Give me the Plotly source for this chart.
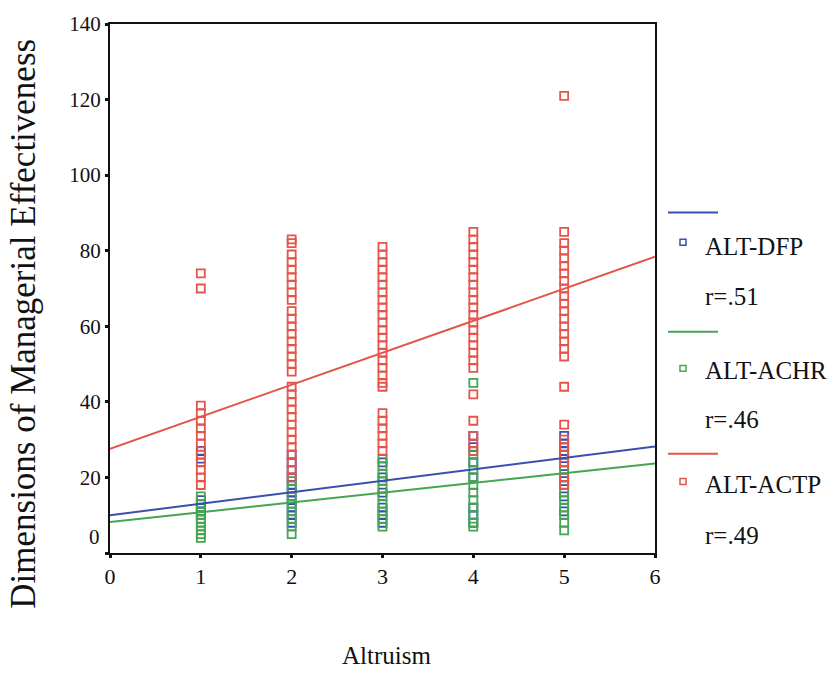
import plotly.graph_objects as go

# ---------------- data ----------------
series_names = ["ALT-DFP", "ALT-ACHR", "ALT-ACTP"]
r_labels = ["r=.51", "r=.46", "r=.49"]
colors = ["#3a4fae", "#45a553", "#e5544a"]

dfp_x = [1]*7 + [2]*10 + [3]*6 + [4]*7 + [5]*7
dfp_y = [27, 25, 14, 13, 12, 11, 10,
         26, 24, 22, 20, 18, 16, 14, 12, 10, 8,
         24, 20, 16, 12, 10, 8,
         31, 28, 24, 20, 12, 10, 8,
         31, 29, 27, 23, 19, 15, 11]

achr_x = [1]*10 + [2]*8 + [3]*10 + [4]*12 + [5]*12
achr_y = [15, 13, 11, 10, 9, 8, 7, 6, 5, 4,
          19, 17, 15, 13, 11, 9, 7, 5,
          25, 23, 21, 19, 17, 15, 13, 11, 9, 7,
          45, 26, 24, 22, 20, 18, 16, 14, 12, 10, 8, 7,
          28, 26, 24, 22, 20, 18, 16, 14, 12, 10, 8, 6]

actp_x = [1]*13 + [2]*31 + [3]*26 + [4]*24 + [5]*26
actp_y = [74, 70, 39, 37, 35, 33, 31, 29, 26, 24, 22, 20, 18,
          83, 82, 79, 77, 75, 73, 71, 69, 67, 64, 62, 60, 58, 56, 54, 52, 50, 48,
          44, 42, 40, 38, 36, 34, 32, 30, 28, 26, 24, 22, 20,
          81, 79, 77, 75, 73, 71, 69, 67, 65, 63, 61, 59, 57, 55, 53, 51, 49, 47, 45, 44,
          37, 35, 33, 31, 29, 27,
          85, 83, 81, 79, 77, 75, 73, 71, 69, 67, 65, 63, 61, 59, 57, 55, 53, 51, 49,
          42, 35, 31, 29, 27,
          121, 85, 82, 80, 78, 76, 74, 72, 70, 68, 66, 64, 62, 60, 58, 56, 54, 52,
          44, 34, 30, 28, 26, 24, 20, 18]

# fit lines: values read at x = 0 and x = 6
fit_x = [0, 6]
dfp_fit = [10.0, 28.2]
achr_fit = [8.2, 23.7]
actp_fit = [27.6, 78.4]

x_ticks = [0, 1, 2, 3, 4, 5, 6]
y_ticks = [0, 20, 40, 60, 80, 100, 120, 140]

FONT = "'Liberation Serif', 'Times New Roman', 'DejaVu Serif', serif"

fig = go.Figure()
for xs, ys, c in [(dfp_x, dfp_y, colors[0]), (achr_x, achr_y, colors[1]), (actp_x, actp_y, colors[2])]:
    fig.add_trace(go.Scatter(x=xs, y=ys, mode="markers",
                             marker=dict(symbol="square-open", size=8, color=c, line=dict(width=1.8, color=c)),
                             showlegend=False, cliponaxis=False))
for ys, c in [(dfp_fit, colors[0]), (achr_fit, colors[1]), (actp_fit, colors[2])]:
    fig.add_trace(go.Scatter(x=fit_x, y=ys, mode="lines", line=dict(color=c, width=2), showlegend=False))

L, R, T, B = 110, 182, 20, 121
W, H = 837, 674
pw, ph = W - L - R, H - T - B

def px(xp):
    return (xp - L) / pw

def py(yp):
    return (H - B - yp) / ph

annotations = []
shapes = []

# custom legend
leg_line_y = [210, 330, 453]
leg_sq_y = [240, 367, 481]
leg_txt_y = [244, 369, 484]
leg_r_y = [295, 418, 535]
for i in range(3):
    shapes.append(dict(type="line", xref="paper", yref="paper",
                       x0=px(668), x1=px(718), y0=py(leg_line_y[i]), y1=py(leg_line_y[i]),
                       line=dict(color=colors[i], width=2)))
    shapes.append(dict(type="rect", xref="paper", yref="paper",
                       x0=px(680), x1=px(686), y0=py(leg_sq_y[i] + 3), y1=py(leg_sq_y[i] - 3),
                       line=dict(color=colors[i], width=1.5)))
    annotations.append(dict(text=series_names[i], xref="paper", yref="paper", x=px(703), y=py(leg_txt_y[i]),
                            xanchor="left", yanchor="middle", showarrow=False,
                            font=dict(family=FONT, size=25, color="#111")))
    annotations.append(dict(text=r_labels[i], xref="paper", yref="paper", x=px(703), y=py(leg_r_y[i]),
                            xanchor="left", yanchor="middle", showarrow=False,
                            font=dict(family=FONT, size=25, color="#111")))

# "0" y tick label, raised as in the original
annotations.append(dict(text="0", xref="paper", yref="y", x=0, y=0, xanchor="right", yanchor="middle",
                        xshift=-8, yshift=16, showarrow=False, font=dict(family=FONT, size=21, color="#111")))
# axis titles
annotations.append(dict(text="Altruism", xref="paper", yref="paper", x=px(386), y=py(656),
                        xanchor="center", yanchor="middle", showarrow=False,
                        font=dict(family=FONT, size=25, color="#111")))
annotations.append(dict(text="Dimensions of Managerial Effectiveness", xref="paper", yref="paper",
                        x=px(24), y=py(322), xanchor="center", yanchor="middle", textangle=-90,
                        showarrow=False, font=dict(family=FONT, size=35, color="#111")))

fig.update_layout(
    width=W, height=H, margin=dict(l=L, r=R, t=T, b=B),
    paper_bgcolor="white", plot_bgcolor="white",
    annotations=annotations, shapes=shapes,
    font=dict(family=FONT, size=21, color="#111"),
)
fig.update_xaxes(range=[0, 6], tickvals=x_ticks, ticktext=[str(v) for v in x_ticks],
                 showgrid=False, zeroline=False, showline=True, linecolor="#111", linewidth=2, mirror=True,
                 ticks="outside", ticklen=3, tickwidth=3, tickcolor="#111",
                 tickfont=dict(family=FONT, size=22, color="#111"))
fig.update_yaxes(range=[0, 140], tickvals=y_ticks, ticktext=[""] + [str(v) for v in y_ticks[1:]],
                 showgrid=False, zeroline=False, showline=True, linecolor="#111", linewidth=2, mirror=True,
                 ticks="outside", ticklen=3, tickwidth=3, tickcolor="#111",
                 tickfont=dict(family=FONT, size=21, color="#111"))

fig.write_html("out.html")
